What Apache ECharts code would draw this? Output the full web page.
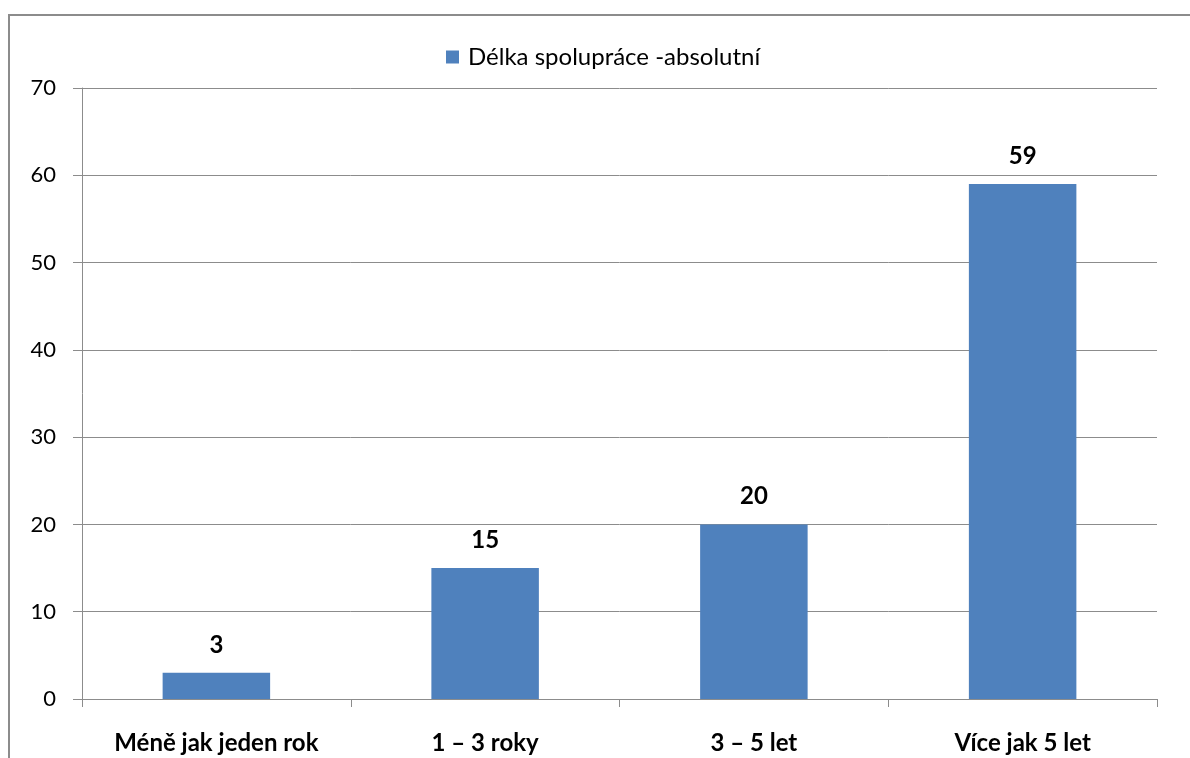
<!DOCTYPE html>
<html>
<head>
<meta charset="utf-8">
<script src="https://cdn.jsdelivr.net/npm/echarts@6/dist/echarts.min.js"></script>
<style>html,body{margin:0;padding:0;background:#fff;}#c{width:1190px;height:758px;}</style>
</head>
<body>
<div id="c"></div>
<script>
const categories = ['Méně jak jeden rok', '1 – 3 roky', '3 – 5 let', 'Více jak 5 let'];
const seriesName = 'Délka spolupráce -absolutní';
const values = [3, 15, 20, 59];
const yTicks = { min: 0, max: 70, interval: 10 };

const chart = echarts.init(document.getElementById('c'));
const FONT = 'Lato';
chart.setOption({
  animation: false,
  backgroundColor: '#fff',
  graphic: [{
    type: 'polyline',
    shape: { points: [[9, 800], [9, 15], [1200, 15]] },
    style: { stroke: '#8c8c8c', lineWidth: 2, fill: null }
  }],
  legend: {
    left: 441, top: 40,
    itemWidth: 13, itemHeight: 13, itemGap: 10,
    icon: 'rect',
    textStyle: { fontFamily: FONT, fontSize: 24, color: '#000', padding: [0, 0, 0, 4] },
    data: [seriesName]
  },
  grid: { left: 82, right: 33, top: 88, bottom: 59, containLabel: false },
  xAxis: {
    type: 'category',
    data: categories,
    axisLine: { lineStyle: { color: '#8c8c8c', width: 1 } },
    axisTick: { show: true, alignWithLabel: false, length: 8, lineStyle: { color: '#8c8c8c' } },
    axisLabel: { fontFamily: FONT, fontSize: 24, fontWeight: 'bold', color: '#000', margin: 32 },
    splitLine: { show: false }
  },
  yAxis: {
    type: 'value',
    min: yTicks.min, max: yTicks.max, interval: yTicks.interval,
    axisLine: { show: true, lineStyle: { color: '#8c8c8c', width: 1 } },
    axisTick: { show: true, length: 9, lineStyle: { color: '#8c8c8c' } },
    axisLabel: { fontFamily: FONT, fontSize: 22, color: '#000', margin: 26 },
    splitLine: { show: true, lineStyle: { color: '#8c8c8c', width: 1 } }
  },
  series: [{
    name: seriesName,
    type: 'bar',
    data: values,
    barWidth: '40%',
    itemStyle: { color: '#4F81BD' },
    label: {
      show: true, position: 'top', distance: 16,
      fontFamily: FONT, fontSize: 24, fontWeight: 'bold', color: '#000'
    }
  }]
});
</script>
</body>
</html>
